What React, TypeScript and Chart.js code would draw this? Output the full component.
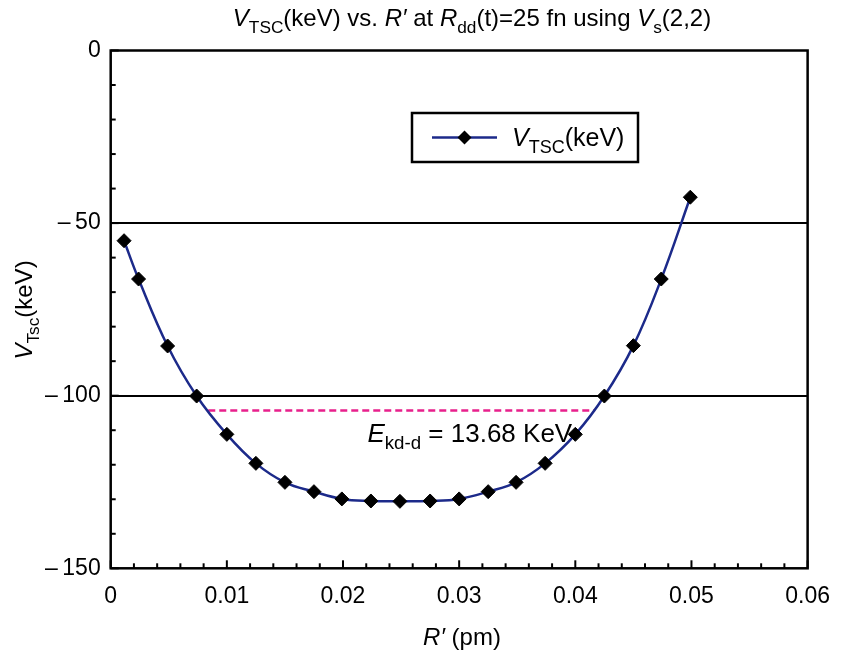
import React, { useEffect, useRef } from "react";
import { Chart, registerables } from "chart.js";

Chart.register(...registerables);

// ---- data ----
const rPrime = [
  0.00115, 0.0024, 0.0049, 0.0074, 0.01, 0.0125, 0.015, 0.0175, 0.0199, 0.0224,
  0.0249, 0.0275, 0.03, 0.0325, 0.0349, 0.0374, 0.04, 0.0425, 0.045, 0.0474, 0.0499,
];
const vTsc = [
  -55.1, -66.2, -85.6, -100.1, -111.2, -119.6, -125.1, -127.8, -129.9, -130.5,
  -130.6, -130.5, -129.9, -127.8, -125.1, -119.6, -111.2, -100.1, -85.5, -66.2, -42.5,
];
const gapX = [0.0084, 0.0417];
const gapY = [-104.3, -104.3];
const gapLabelValue = "13.68 KeV";
const gapLabelAt = { x: 0.0221, y: -110.8 };
const xTickValues = [0, 0.01, 0.02, 0.03, 0.04, 0.05, 0.06];
const yTickValues = [0, -50, -100, -150];
const yGridValues = [-50, -100];

const FONT = '"Liberation Sans", Arial, sans-serif';

type Seg = { t: string; i?: boolean; sub?: boolean };

function segFont(s: Seg, size: number) {
  const sz = s.sub ? size * 0.72 : size;
  return `${s.i ? "italic " : ""}${sz}px ${FONT}`;
}

function richWidth(ctx: CanvasRenderingContext2D, segs: Seg[], size: number) {
  let w = 0;
  for (const s of segs) {
    ctx.font = segFont(s, size);
    w += ctx.measureText(s.t).width;
  }
  return w;
}

function drawRich(
  ctx: CanvasRenderingContext2D,
  segs: Seg[],
  x: number,
  y: number,
  size: number,
  align: "left" | "center" = "left"
) {
  const w = richWidth(ctx, segs, size);
  let cx = align === "center" ? x - w / 2 : x;
  ctx.textBaseline = "alphabetic";
  ctx.textAlign = "left";
  ctx.fillStyle = "#000";
  for (const s of segs) {
    ctx.font = segFont(s, size);
    ctx.fillText(s.t, cx, s.sub ? y + size * 0.28 : y);
    cx += ctx.measureText(s.t).width;
  }
}

const titleSegs: Seg[] = [
  { t: "V", i: true },
  { t: "TSC", sub: true },
  { t: "(keV) vs. " },
  { t: "R\u2032", i: true },
  { t: " at " },
  { t: "R", i: true },
  { t: "dd", sub: true },
  { t: "(t)=25 fn using " },
  { t: "V", i: true },
  { t: "s", sub: true },
  { t: "(2,2)" },
];
const legendSegs: Seg[] = [{ t: "V", i: true }, { t: "TSC", sub: true }, { t: "(keV)" }];
const yTitleSegs: Seg[] = [{ t: "V", i: true }, { t: "Tsc", sub: true }, { t: "(keV)" }];
const xTitleSegs: Seg[] = [{ t: "R\u2032", i: true }, { t: " (pm)" }];
const annotSegs: Seg[] = [
  { t: "E", i: true },
  { t: "kd-d", sub: true },
  { t: " = " + gapLabelValue },
];

const decorPlugin = {
  id: "decor",
  afterDraw(chart: any) {
    const ctx: CanvasRenderingContext2D = chart.ctx;
    const { left, right, top, bottom } = chart.chartArea;
    const xs = chart.scales.x;
    const ys = chart.scales.y;
    ctx.save();
    // frame
    ctx.strokeStyle = "#000";
    ctx.lineWidth = 2.5;
    ctx.strokeRect(left, top, right - left, bottom - top);
    // minor / major inward ticks
    ctx.lineWidth = 2;
    for (let k = 0; k <= 30; k++) {
      const v = k * 0.002;
      const px = xs.getPixelForValue(v);
      const len = k % 5 === 0 ? 8 : 5;
      ctx.beginPath();
      ctx.moveTo(px, bottom);
      ctx.lineTo(px, bottom - len);
      ctx.stroke();
    }
    for (let k = 0; k <= 15; k++) {
      const v = -k * 10;
      const py = ys.getPixelForValue(v);
      const len = k % 5 === 0 ? 8 : 5;
      ctx.beginPath();
      ctx.moveTo(left, py);
      ctx.lineTo(left + len, py);
      ctx.stroke();
    }
    // title
    drawRich(ctx, titleSegs, 472, 26, 24, "center");
    // x title
    drawRich(ctx, xTitleSegs, 462, 645, 24, "center");
    // y title
    ctx.save();
    ctx.translate(32, 310);
    ctx.rotate(-Math.PI / 2);
    drawRich(ctx, yTitleSegs, 0, 0, 24, "center");
    ctx.restore();
    // annotation
    drawRich(
      ctx,
      annotSegs,
      xs.getPixelForValue(gapLabelAt.x),
      ys.getPixelForValue(gapLabelAt.y) + 9,
      26,
      "left"
    );
    // legend
    const lx = 412,
      ly = 113,
      lw = 226,
      lh = 49;
    ctx.fillStyle = "#fff";
    ctx.fillRect(lx, ly, lw, lh);
    ctx.strokeStyle = "#000";
    ctx.lineWidth = 2.5;
    ctx.strokeRect(lx, ly, lw, lh);
    ctx.strokeStyle = "#1c2a8a";
    ctx.lineWidth = 2.5;
    ctx.beginPath();
    ctx.moveTo(432, 137.5);
    ctx.lineTo(497, 137.5);
    ctx.stroke();
    ctx.fillStyle = "#000";
    ctx.beginPath();
    ctx.moveTo(464.5, 130.5);
    ctx.lineTo(471.5, 137.5);
    ctx.lineTo(464.5, 144.5);
    ctx.lineTo(457.5, 137.5);
    ctx.closePath();
    ctx.fill();
    drawRich(ctx, legendSegs, 512, 146, 25, "left");
    ctx.restore();
  },
};

export default function App() {
  const ref = useRef<HTMLCanvasElement | null>(null);
  useEffect(() => {
    if (!ref.current) return;
    const chart = new Chart(ref.current, {
      type: "line",
      data: {
        datasets: [
          {
            label: "VTSC(keV)",
            data: rPrime.map((x, i) => ({ x, y: vTsc[i] })),
            borderColor: "#1c2a8a",
            borderWidth: 2.5,
            tension: 0.4,
            pointStyle: "rectRot",
            pointRadius: 7,
            pointBackgroundColor: "#000",
            pointBorderColor: "#000",
            pointBorderWidth: 1,
            order: 0,
          },
          {
            label: "gap",
            data: gapX.map((x, i) => ({ x, y: gapY[i] })),
            borderColor: "#e8208c",
            borderWidth: 2.5,
            borderDash: [7, 4],
            pointRadius: 0,
            order: 1,
          },
        ],
      },
      options: {
        animation: false,
        responsive: true,
        maintainAspectRatio: false,
        layout: { padding: { left: 0, top: 50.5, right: 35, bottom: 0 } },
        plugins: {
          legend: { display: false },
          title: { display: false },
          tooltip: { enabled: false },
        },
        scales: {
          x: {
            type: "linear",
            min: 0,
            max: 0.06,
            afterFit: (s: any) => {
              s.height = 92.7;
            },
            afterBuildTicks: (s: any) => {
              s.ticks = xTickValues.map((v) => ({ value: v }));
            },
            ticks: {
              padding: 15,
              color: "#000",
              font: { family: FONT, size: 23 },
              maxRotation: 0,
              callback: (v: any) => (Number(v) === 0 ? "0" : Number(v).toFixed(2)),
            },
            grid: { display: false, drawTicks: false },
            border: { display: false },
          },
          y: {
            type: "linear",
            min: -150,
            max: 0,
            afterFit: (s: any) => {
              s.width = 110.7;
            },
            afterBuildTicks: (s: any) => {
              s.ticks = yTickValues.map((v) => ({ value: v }));
            },
            ticks: {
              padding: 10,
              color: "#000",
              font: { family: FONT, size: 23 },
              callback: (v: any) =>
                Number(v) === 0 ? "0" : "\u2013\u2009" + Math.abs(Number(v)),
            },
            grid: {
              drawTicks: false,
              lineWidth: 2,
              color: (c: any) =>
                c.tick && yGridValues.includes(c.tick.value) ? "#000" : "rgba(0,0,0,0)",
            },
            border: { display: false },
          },
        },
      },
      plugins: [decorPlugin],
    });
    return () => chart.destroy();
  }, []);
  return (
    <div
      style={{
        position: "fixed",
        left: 0,
        top: 0,
        width: 845,
        height: 661,
        background: "#fff",
      }}
    >
      <canvas ref={ref} />
    </div>
  );
}
